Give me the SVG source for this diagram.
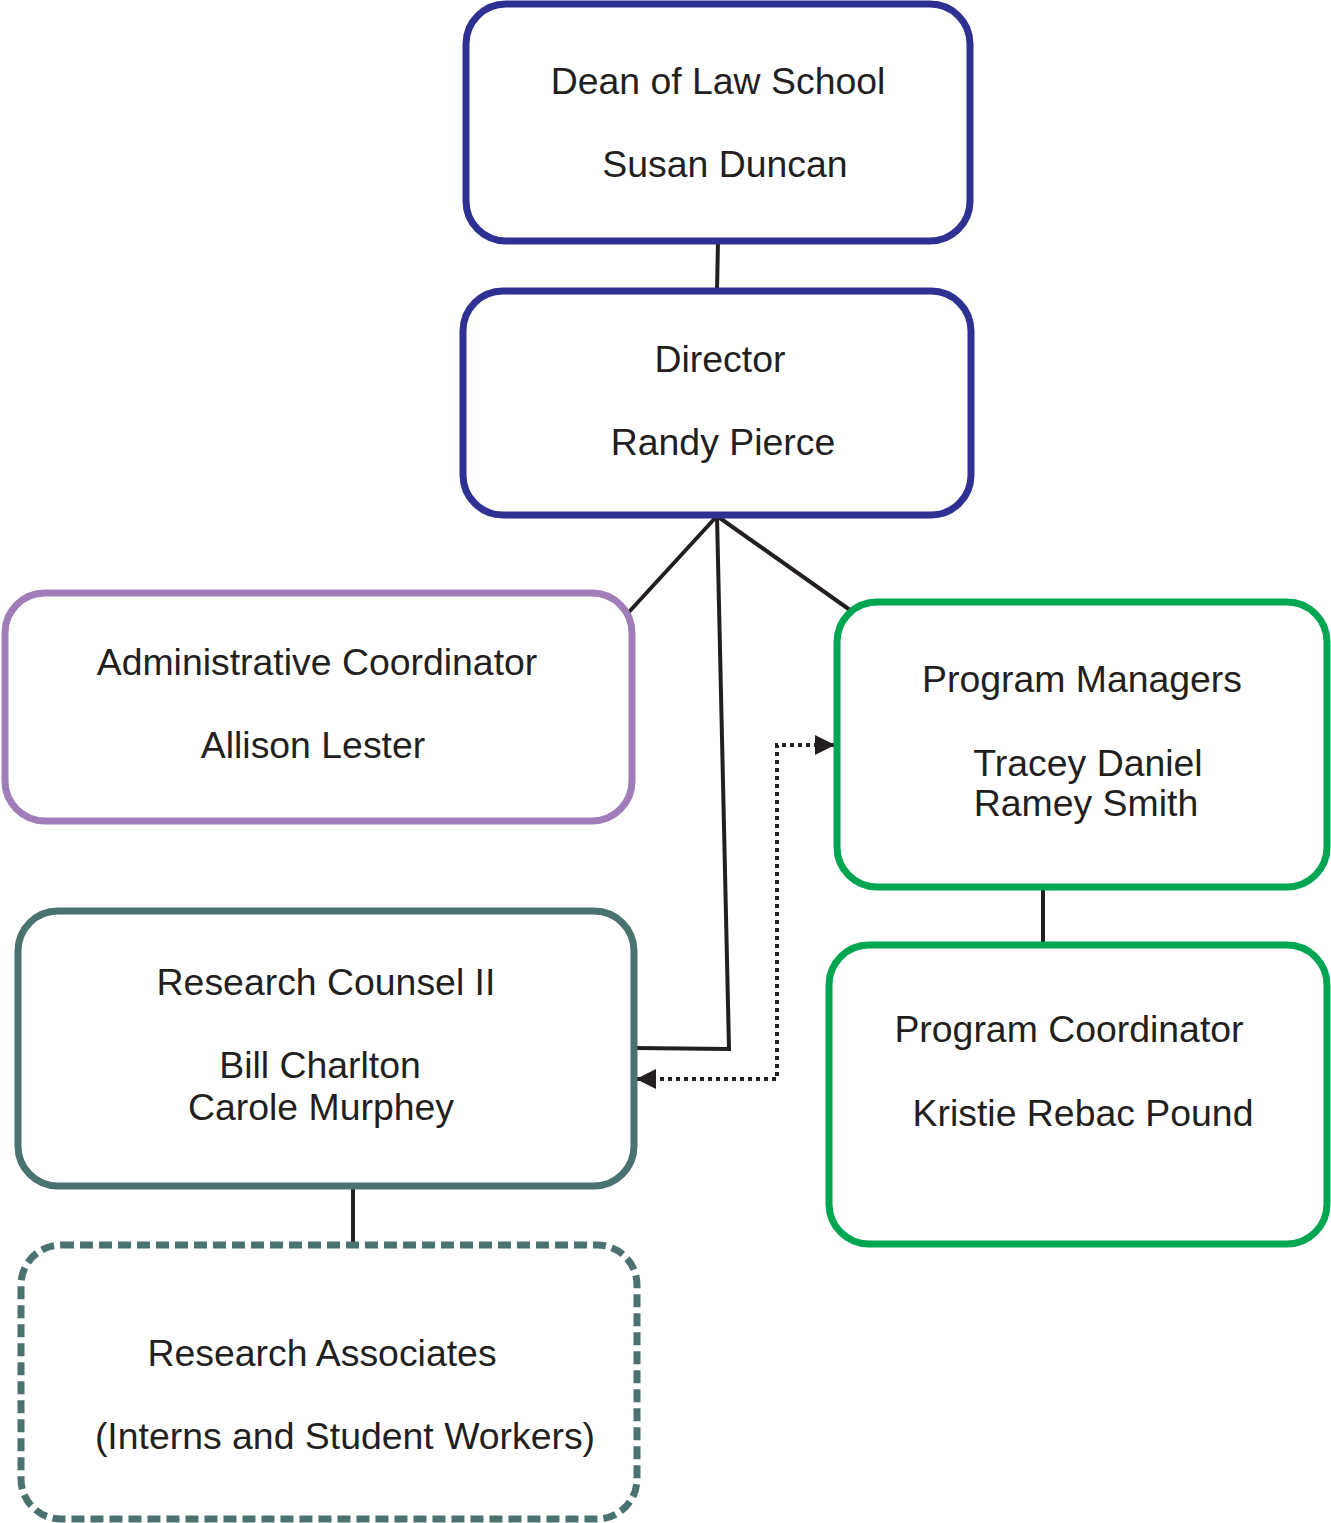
<svg xmlns="http://www.w3.org/2000/svg" width="1331" height="1523" viewBox="0 0 1331 1523">
<style>
.box{fill:#fff;stroke-width:7}
.t{font-family:"Liberation Sans",Arial,sans-serif;font-size:37.4px;fill:#231f20;text-anchor:middle}
.c{fill:none;stroke:#231f20;stroke-width:4}
.d{fill:none;stroke:#231f20;stroke-width:4;stroke-dasharray:4 4}
</style>
<defs>
<marker id="ah" viewBox="0 0 10 10" refX="10" refY="5" markerWidth="5" markerHeight="5" orient="auto-start-reverse" markerUnits="strokeWidth">
<path d="M0,0 L10,5 L0,10 z" fill="#231f20"/>
</marker>
</defs>
<g id="connectors">
<line class="c" x1="718" y1="241" x2="717" y2="291"/>
<line class="c" x1="717" y1="516" x2="628" y2="613"/>
<line class="c" x1="717" y1="516" x2="850" y2="610"/>
<polyline class="c" points="717,516 729,1049 634,1048"/>
<polyline class="d" points="636,1079 777,1079 777,745 835,745" marker-start="url(#ah)" marker-end="url(#ah)"/>
<line class="c" x1="1043" y1="887" x2="1043" y2="945"/>
<line class="c" x1="353" y1="1186" x2="353" y2="1245"/>
</g>
<g id="dean">
<rect class="box" x="466" y="4" width="504" height="237" rx="40" stroke="#2e3192"/>
<text class="t" x="718" y="94">Dean of Law School</text>
<text class="t" x="725" y="177">Susan Duncan</text>
</g>
<g id="director">
<rect class="box" x="463" y="291" width="508" height="224" rx="40" stroke="#2e3192"/>
<text class="t" x="720" y="372">Director</text>
<text class="t" x="723" y="455">Randy Pierce</text>
</g>
<g id="admin">
<rect class="box" x="5" y="593" width="627" height="228" rx="40" stroke="#a07cb8"/>
<text class="t" x="317" y="675">Administrative Coordinator</text>
<text class="t" x="313" y="758">Allison Lester</text>
</g>
<g id="program-managers">
<rect class="box" x="837" y="602" width="490" height="285" rx="40" stroke="#00a651"/>
<text class="t" x="1082" y="692">Program Managers</text>
<text class="t" x="1088" y="776">Tracey Daniel</text>
<text class="t" x="1086" y="816">Ramey Smith</text>
</g>
<g id="research-counsel">
<rect class="box" x="18" y="911" width="616" height="275" rx="40" stroke="#4a7270"/>
<text class="t" x="326" y="995">Research Counsel II</text>
<text class="t" x="320" y="1078">Bill Charlton</text>
<text class="t" x="321" y="1120">Carole Murphey</text>
</g>
<g id="program-coordinator">
<rect class="box" x="829" y="945" width="498" height="299" rx="40" stroke="#00a651"/>
<text class="t" x="1069" y="1042">Program Coordinator</text>
<text class="t" x="1083" y="1126">Kristie Rebac Pound</text>
</g>
<g id="research-associates">
<rect class="box" x="21" y="1245" width="616" height="274" rx="40" stroke="#4a7270" stroke-dasharray="13 6"/>
<text class="t" x="322" y="1366">Research Associates</text>
<text class="t" x="345" y="1449">(Interns and Student Workers)</text>
</g>
</svg>
